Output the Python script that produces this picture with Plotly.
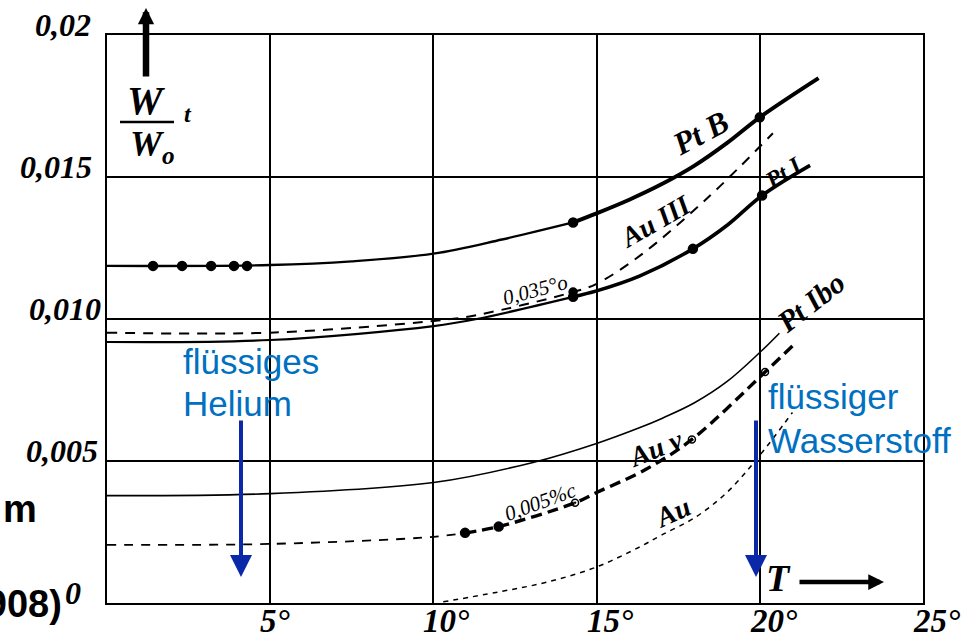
import plotly.graph_objects as go

# ---------------- data (T in K, W_t/W_0) ----------------
x_ticks = [5, 10, 15, 20, 25]
x_tick_labels = ["5°", "10°", "15°", "20°", "25°"]
y_ticks = [0.02, 0.015, 0.010, 0.005, 0]
y_tick_labels = ["0,02", "0,015", "0,010", "0,005", "0"]

# Pt B (thick solid)
ptb_T_thin = [0, 5, 7.5, 10, 12.1, 14.28]
ptb_W_thin = [0.01187, 0.01190, 0.01203, 0.01230, 0.01280, 0.01340]
ptb_T_thick = [14.28, 15, 16, 17, 18, 19, 20.0, 21.8]
ptb_W_thick = [0.01340, 0.01372, 0.01420, 0.01475, 0.01540, 0.01620, 0.01710, 0.01848]
ptb_pts_T = [1.41, 2.30, 3.19, 3.89, 4.29, 14.28, 20.0]
ptb_pts_W = [0.01187, 0.01187, 0.01187, 0.01187, 0.01187, 0.01340, 0.01710]

# Pt I (solid)
pt1_T_thin = [0, 5, 10, 11.33, 14.28]
pt1_W_thin = [0.00919, 0.00926, 0.00975, 0.01000, 0.01078]
pt1_T_thick = [14.28, 15, 16.33, 17.95, 19, 20.07, 21.54]
pt1_W_thick = [0.01078, 0.01099, 0.01152, 0.01247, 0.01330, 0.01435, 0.01541]
pt1_pts_T = [14.28, 17.95, 20.07]
pt1_pts_W = [0.01078, 0.01247, 0.01435]

# Au III (dashed)
au3_T = [0, 5, 10, 11.33, 14.28, 15, 16.33, 18.38, 20.4]
au3_W = [0.00952, 0.00952, 0.00993, 0.01014, 0.01095, 0.01124, 0.01223, 0.01424, 0.01654]
au3_pts_T = [14.28]
au3_pts_W = [0.01095]

# Pt Ibo (thin solid)
pt60_T = [0, 5, 10, 13.05, 15, 16.33, 17, 18, 19, 20, 20.6]
pt60_W = [0.00378, 0.00385, 0.00424, 0.00495, 0.00562, 0.00618, 0.00650, 0.00705, 0.00780, 0.00882, 0.00950]

# Au V (dashed, thin then thick)
au5_T_thin = [0, 5, 10, 10.97]
au5_W_thin = [0.00205, 0.00208, 0.00233, 0.00247]
au5_T_thick = [10.97, 12.0, 14.34, 15, 16.5, 17.92, 20.16, 21.0]
au5_W_thick = [0.00247, 0.00269, 0.00353, 0.00389, 0.00470, 0.00576, 0.00813, 0.00905]
au5_fill_T = [10.97, 12.0]
au5_fill_W = [0.00247, 0.00269]
au5_open_T = [14.34, 17.92, 20.16]
au5_open_W = [0.00353, 0.00576, 0.00813]

# Au (thin dotted)
au_T = [10.3, 12, 13.5, 15, 16.33, 17, 18, 19, 20, 21]
au_W = [0.00004, 0.00039, 0.00074, 0.00127, 0.00198, 0.00240, 0.00300, 0.00390, 0.00520, 0.00671]

# ---------------- figure ----------------
W_FIG, H_FIG = 961, 638
ML, MR, MT, MB = 107, 38, 35, 35
PW = W_FIG - ML - MR
PH = H_FIG - MT - MB


def px(x):
    return (x - ML) / PW


def py(y):
    return (H_FIG - MB - y) / PH


HAND = "Liberation Serif"
fig = go.Figure()


def add_line(T, W, width, dash="solid"):
    fig.add_trace(go.Scatter(
        x=T, y=W, mode="lines",
        line=dict(color="black", width=width, dash=dash, shape="spline", smoothing=1.0),
        hoverinfo="skip", showlegend=False))


def add_pts(T, W, size=9, symbol="circle"):
    fig.add_trace(go.Scatter(
        x=T, y=W, mode="markers",
        marker=dict(color="black", size=size, symbol=symbol, line=dict(color="black", width=1.5)),
        hoverinfo="skip", showlegend=False))


add_line(ptb_T_thin, ptb_W_thin, 2.4)
add_line(ptb_T_thick, ptb_W_thick, 4)
add_pts(ptb_pts_T, ptb_pts_W)

add_line(pt1_T_thin, pt1_W_thin, 2.2)
add_line(pt1_T_thick, pt1_W_thick, 3.6)
add_pts(pt1_pts_T, pt1_pts_W)

add_line(au3_T, au3_W, 2, "10px,8px")
add_pts(au3_pts_T, au3_pts_W, 8)

add_line(pt60_T, pt60_W, 1.6)

add_line(au5_T_thin, au5_W_thin, 1.8, "9px,8px")
add_line(au5_T_thick, au5_W_thick, 3.4, "11px,6px")
add_pts(au5_fill_T, au5_fill_W, 9)
add_pts(au5_open_T, au5_open_W, 7, "circle-open-dot")

add_line(au_T, au_W, 1.5, "5px,5px")

ann = []
# y tick labels (right edge of each handwritten label, in pixels)
y_label_right = [93, 94, 103, 100, 83]
for v, t, xr in zip(y_ticks, y_tick_labels, y_label_right):
    ann.append(dict(xref="paper", yref="y", x=px(xr), y=v, text="<b><i>" + t + "</i></b>",
                    showarrow=False, xanchor="right", yanchor="middle", yshift=10,
                    font=dict(family=HAND, size=32, color="black")))
# x tick labels
for v, t in zip(x_ticks, x_tick_labels):
    ann.append(dict(xref="x", yref="paper", x=v, y=0, text="<b><i>" + t + "</i></b>",
                    showarrow=False, xanchor="left", yanchor="middle", xshift=-12, yshift=-18,
                    font=dict(family=HAND, size=33, color="black")))


# curve labels (handwritten)
def lab(text, x, y, ang, size, bold=True):
    t = "<i>" + text + "</i>"
    if bold:
        t = "<b>" + t + "</b>"
    ann.append(dict(xref="paper", yref="paper", x=px(x), y=py(y), text=t,
                    showarrow=False, xanchor="center", yanchor="middle", textangle=ang,
                    font=dict(family=HAND, size=size, color="black")))


lab("Pt B", 700, 133, -28, 32)
lab("Au III", 655, 222, -30, 28)
lab("Pt I", 783, 173, -32, 24)
lab("0,035°o", 535, 290, -15, 21, False)
lab("Pt Ibo", 810, 302, -38, 30)
lab("Au v", 655, 448, -22, 28)
lab("0,005%c", 540, 502, -20, 21, False)
lab("Au", 672, 512, -25, 28)

# y-axis quantity label
lab("W", 146, 101, 0, 40)
lab("W<sub>o</sub>", 152, 146, 0, 36)
lab("t", 188, 114, 0, 24)
lab("T", 778, 578, 0, 38)

# blue annotations
BLUE_T = "#0070C0"
BLUE_A = "#0B28A8"
for text, x, y in [("flüssiges", 181, 361), ("Helium", 181, 403),
                   ("flüssiger", 766, 396), ("Wasserstoff", 766, 440)]:
    ann.append(dict(xref="paper", yref="paper", x=px(x), y=py(y), text=text, showarrow=False,
                    xanchor="left", yanchor="middle",
                    font=dict(family="Liberation Sans", size=35, color=BLUE_T)))

for x0 in [241, 756]:
    ann.append(dict(xref="paper", yref="paper", x=px(x0), y=py(577), text="", showarrow=True,
                    ax=0, ay=-158, arrowhead=2, arrowsize=1.1, arrowwidth=4,
                    arrowcolor=BLUE_A, standoff=0))

# black arrows (axis direction)
ann.append(dict(xref="paper", yref="paper", x=px(146), y=py(8), text="", showarrow=True,
                ax=0, ay=70, arrowhead=2, arrowsize=0.5, arrowwidth=6.5,
                arrowcolor="black", standoff=0))
ann.append(dict(xref="paper", yref="paper", x=px(884), y=py(582), text="", showarrow=True,
                ax=-86, ay=0, arrowhead=2, arrowsize=0.7, arrowwidth=4.5,
                arrowcolor="black", standoff=0))

# clipped slide text fragments (bold black)
ann.append(dict(xref="paper", yref="paper", x=px(1), y=py(509), text="<b>m</b>", showarrow=False,
                xanchor="left", yanchor="middle",
                font=dict(family="Liberation Sans", size=38, color="black")))
ann.append(dict(xref="paper", yref="paper", x=px(64), y=py(604), text="<b>(1908)</b>", showarrow=False,
                xanchor="right", yanchor="middle",
                font=dict(family="Liberation Sans", size=38, color="black")))

shapes = [dict(type="line", xref="paper", yref="paper", x0=px(120), x1=px(174), y0=py(122), y1=py(122),
               line=dict(color="black", width=2.5))]

fig.update_layout(
    width=W_FIG, height=H_FIG,
    margin=dict(l=ML, r=MR, t=MT, b=MB),
    paper_bgcolor="white", plot_bgcolor="white",
    showlegend=False,
    annotations=ann, shapes=shapes,
    xaxis=dict(range=[0, 25], dtick=5, tick0=0, showgrid=True, gridcolor="black", gridwidth=1.6,
               showline=True, linecolor="black", linewidth=2, mirror=True, zeroline=False,
               showticklabels=False, ticks=""),
    yaxis=dict(range=[0, 0.02], dtick=0.005, tick0=0, showgrid=True, gridcolor="black", gridwidth=1.6,
               showline=True, linecolor="black", linewidth=2, mirror=True, zeroline=False,
               showticklabels=False, ticks=""),
)

fig.write_html("out.html", config={"displayModeBar": False},
               post_script="document.body.style.margin='0';document.body.style.overflow='hidden';")
